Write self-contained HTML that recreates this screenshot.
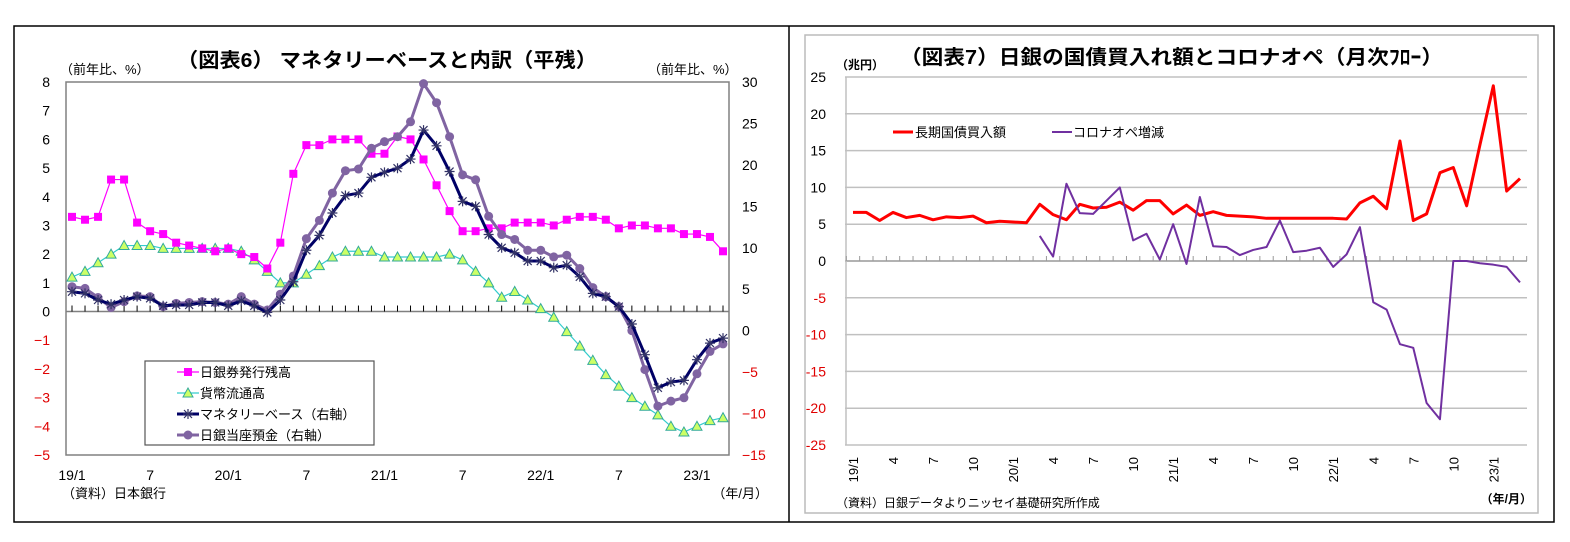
<!DOCTYPE html>
<html><head><meta charset="utf-8"><style>
html,body{margin:0;padding:0;background:#fff;width:1570px;height:542px;overflow:hidden}
svg text{font-family:"Liberation Sans","Noto Sans CJK JP",sans-serif}
</style></head><body>
<svg id="s" width="1570" height="542" xmlns="http://www.w3.org/2000/svg">
<rect x="14" y="26" width="1540" height="496" fill="none" stroke="#000" stroke-width="1.5"/>
<line x1="789" y1="26" x2="789" y2="522" stroke="#000" stroke-width="1.5"/>
<rect x="805" y="35" width="733" height="478" fill="none" stroke="#bbb" stroke-width="1.5"/>
<g id="L"></g>
<g id="R"></g>
</svg>
<script>
// ---- Left chart data ----
const monthsL = 51;
const xLabelsL = ["19/1","7","20/1","7","21/1","7","22/1","7","23/1"];
const leftTicks = [8,7,6,5,4,3,2,1,0,-1,-2,-3,-4,-5];
const rightTicks = [30,25,20,15,10,5,0,-5,-10,-15];
const notes = [3.3,3.2,3.3,4.6,4.6,3.1,2.8,2.7,2.4,2.3,2.2,2.1,2.2,2.0,1.9,1.5,2.4,4.8,5.8,5.8,6.0,6.0,6.0,5.5,5.5,6.1,6.0,5.3,4.4,3.5,2.8,2.8,2.9,2.9,3.1,3.1,3.1,3.0,3.2,3.3,3.3,3.2,2.9,3.0,3.0,2.9,2.9,2.7,2.7,2.6,2.1];
const currency = [1.2,1.4,1.7,2.0,2.3,2.3,2.3,2.2,2.2,2.2,2.2,2.2,2.2,2.1,1.8,1.4,1.0,1.0,1.3,1.6,1.9,2.1,2.1,2.1,1.9,1.9,1.9,1.9,1.9,2.0,1.8,1.4,1.0,0.5,0.7,0.4,0.1,-0.2,-0.7,-1.2,-1.7,-2.2,-2.6,-3.0,-3.3,-3.6,-4.0,-4.2,-4.0,-3.8,-3.7];
const monetaryBase = [4.7,4.5,3.7,3.2,3.7,4.1,3.9,3.0,3.1,3.1,3.4,3.4,3.0,3.6,3.0,2.2,3.7,5.9,9.7,11.5,14.2,16.3,16.6,18.5,19.1,19.6,20.7,24.2,22.3,19.2,15.6,15.0,11.6,10.0,9.4,8.4,8.4,7.6,7.9,6.5,4.5,4.1,2.9,0.8,-2.9,-6.9,-6.2,-6.0,-3.5,-1.5,-0.9];
const currentAcct = [5.3,5.1,4.0,2.8,3.5,4.2,4.1,2.9,3.3,3.4,3.5,3.4,3.2,4.1,3.2,2.5,4.4,6.6,11.1,13.3,16.6,19.3,19.5,22.0,22.8,23.4,25.2,29.8,27.5,23.4,18.8,18.2,13.8,11.6,11.0,9.7,9.7,8.9,9.1,7.5,5.2,4.1,2.9,0.0,-4.7,-9.1,-8.5,-8.1,-5.2,-2.5,-1.6];
// ---- Right chart data ----
const xLabelsR = ["19/1","4","7","10","20/1","4","7","10","21/1","4","7","10","22/1","4","7","10","23/1"];
const yTicksR = [25,20,15,10,5,0,-5,-10,-15,-20,-25];
const jgbBuy = [6.6,6.6,5.5,6.6,5.9,6.2,5.6,6.0,5.9,6.1,5.2,5.4,5.3,5.2,7.7,6.3,5.6,7.7,7.2,7.3,8.0,6.9,8.2,8.2,6.4,7.6,6.2,6.7,6.2,6.1,6.0,5.8,5.8,5.8,5.8,5.8,5.8,5.7,7.9,8.8,7.1,16.3,5.5,6.4,12.0,12.7,7.5,15.8,23.8,9.5,11.2];
const coronaOp = [null,null,null,null,null,null,null,null,null,null,null,null,null,null,3.4,0.6,10.5,6.5,6.4,8.2,10.0,2.8,3.7,0.2,5.0,-0.4,8.7,2.0,1.9,0.8,1.5,1.9,5.5,1.2,1.4,1.8,-0.8,0.9,4.6,-5.6,-6.6,-11.3,-11.8,-19.3,-21.5,0.0,0.0,-0.3,-0.5,-0.8,-2.9];

const NS="http://www.w3.org/2000/svg";
function mk(parent,tag,attrs,txt){const e=document.createElementNS(NS,tag);for(const k in attrs)e.setAttribute(k,attrs[k]);if(txt!==undefined)e.textContent=txt;parent.appendChild(e);return e;}
const L=document.getElementById('L'), R=document.getElementById('R');

// ===== Left =====
const lx0=66,lx1=729,ly0=82,ly1=455;
const xL=i=>72+i*(723-72)/(monthsL-1);
const yLeft=v=>ly0+(8-v)*(ly1-ly0)/13;
const yRight=v=>ly0+(30-v)*(ly1-ly0)/45;
let e;
e=mk(L,'rect',{x:lx0,y:ly0,width:lx1-lx0,height:ly1-ly0,fill:'none',stroke:'#808080','stroke-width':1.5});


e=mk(L,'line',{x1:lx0,x2:lx1,y1:yLeft(0),y2:yLeft(0),stroke:'#808080','stroke-width':1.5});


for(let i=0;i<monthsL;i++){e=mk(L,'line',{x1:xL(i),x2:xL(i),y1:yLeft(0)-6,y2:yLeft(0),stroke:'#000','stroke-width':1});

}
leftTicks.forEach(v=>{e=mk(L,'text',{x:50,y:yLeft(v)+5,'text-anchor':'end','font-size':14,fill:v<0?'#e00000':'#000'},v<0?'−'+(-v):String(v));

});
rightTicks.forEach(v=>{e=mk(L,'text',{x:742,y:yRight(v)+5,'font-size':14,fill:v<0?'#e00000':'#000'},v<0?'−'+(-v):String(v));

});
xLabelsL.forEach((t,k)=>{e=mk(L,'text',{x:xL(k*6),y:480,'text-anchor':'middle','font-size':14},t);

});
e=mk(L,'text',{x:60,y:74,'font-size':13},'（前年比、%）');


e=mk(L,'text',{x:648,y:74,'font-size':13},'（前年比、%）');


e=mk(L,'text',{x:177,y:67,'font-size':20,'font-weight':'bold',textLength:420,lengthAdjust:'spacingAndGlyphs'},'（図表6） マネタリーベースと内訳（平残）');


e=mk(L,'text',{x:62,y:498,'font-size':13},'（資料）日本銀行');


e=mk(L,'text',{x:768,y:498,'text-anchor':'end','font-size':13},'（年/月）');



function pts(arr,fx,fy){return arr.map((v,i)=>v===null?null:[fx(i),fy(v)]).filter(p=>p);}
function poly(g,arr,fx,fy,color,w,name){const p=pts(arr,fx,fy);const el=mk(g,'polyline',{points:p.map(q=>q.join(',')).join(' '),fill:'none',stroke:color,'stroke-width':w,'stroke-linejoin':'round'});

return p;}
function square(g,x,y){const el=mk(g,'rect',{x:x-4,y:y-4,width:8,height:8,fill:'#ff00ff'});

}
function tri(g,x,y){const el=mk(g,'polygon',{points:`${x},${y-5} ${x-5},${y+4} ${x+5},${y+4}`,fill:'#ccff66',stroke:'#33aa99','stroke-width':1});

}
function star(g,x,y){const el=mk(g,'path',{d:`M${x-5},${y}H${x+5}M${x},${y-5}V${y+5}M${x-4},${y-4}L${x+4},${y+4}M${x-4},${y+4}L${x+4},${y-4}`,stroke:'#333366','stroke-width':1.2});

}
function dot(g,x,y){const el=mk(g,'circle',{cx:x,cy:y,r:4.5,fill:'#8064a2'});

}

poly(L,currency,xL,yLeft,'#33cccc',1.2,'currency-line').forEach(p=>tri(L,p[0],p[1]));
poly(L,notes,xL,yLeft,'#ff00ff',1.2,'notes-line').forEach(p=>square(L,p[0],p[1]));
poly(L,currentAcct,xL,yRight,'#8064a2',3,'current-account-line').forEach(p=>dot(L,p[0],p[1]));
poly(L,monetaryBase,xL,yRight,'#000066',3,'monetary-base-line').forEach(p=>star(L,p[0],p[1]));

// legend
const lg=mk(L,'g',{});


mk(lg,'rect',{x:145,y:361,width:229,height:84,fill:'#fff',stroke:'#555','stroke-width':1.2});
const legL=[['日銀券発行残高','#ff00ff',1.2,square],['貨幣流通高','#33cccc',1.2,tri],['マネタリーベース（右軸）','#000066',3,star],['日銀当座預金（右軸）','#8064a2',3,dot]];
legL.forEach((it,k)=>{const y=372+k*21;mk(lg,'line',{x1:177,x2:199,y1:y,y2:y,stroke:it[1],'stroke-width':it[2]});it[3](lg,188,y);
e=mk(lg,'text',{x:200,y:y+5,'font-size':13},it[0]);

});

// ===== Right =====
const rx0=845,rx1=1527,ry0=77,ry1=445;
const xR=i=>853+i*(1520-853)/50;
const yR=v=>ry0+(25-v)*(ry1-ry0)/50;
yTicksR.forEach(v=>{e=mk(R,'line',{x1:rx0,x2:rx1,y1:yR(v),y2:yR(v),stroke:v===0?'#999':'#c0c0c0','stroke-width':1.5});


e=mk(R,'text',{x:826,y:yR(v)+5,'text-anchor':'end','font-size':14,fill:v<0?'#e00000':'#000'},String(v));

});
e=mk(R,'line',{x1:rx0+1,x2:rx0+1,y1:ry0,y2:ry1,stroke:'#c0c0c0','stroke-width':1.5});


for(let i=0;i<=51;i++){const x=853-6.67+i*13.34;e=mk(R,'line',{x1:x,x2:x,y1:yR(0)-5,y2:yR(0),stroke:'#999','stroke-width':1});

}
xLabelsR.forEach((t,k)=>{const x=xR(k*3);e=mk(R,'text',{x:0,y:0,'text-anchor':'end','font-size':13,transform:`translate(${x+5},${457}) rotate(-90)`},t);

});
e=mk(R,'text',{x:836,y:69,'font-size':12,'font-weight':'bold'},'（兆円）');


e=mk(R,'text',{x:900,y:64,'font-size':20,'font-weight':'bold',textLength:543,lengthAdjust:'spacingAndGlyphs'},'（図表7）日銀の国債買入れ額とコロナオペ（月次ﾌﾛｰ）');


e=mk(R,'text',{x:836,y:507,'font-size':12},'（資料）日銀データよりニッセイ基礎研究所作成');


e=mk(R,'text',{x:1532,y:503,'text-anchor':'end','font-size':12,'font-weight':'bold'},'（年/月）');


poly(R,jgbBuy,xR,yR,'#ff0000',3,'jgb-purchase-line');
poly(R,coronaOp,xR,yR,'#7030a0',2,'corona-op-line');
const lr=mk(R,'g',{});


mk(lr,'line',{x1:893,x2:913,y1:132,y2:132,stroke:'#ff0000','stroke-width':3});
e=mk(lr,'text',{x:915,y:137,'font-size':13},'長期国債買入額');


mk(lr,'line',{x1:1052,x2:1072,y1:132,y2:132,stroke:'#7030a0','stroke-width':2});
e=mk(lr,'text',{x:1073,y:137,'font-size':13},'コロナオペ増減');


</script>
</body></html>
